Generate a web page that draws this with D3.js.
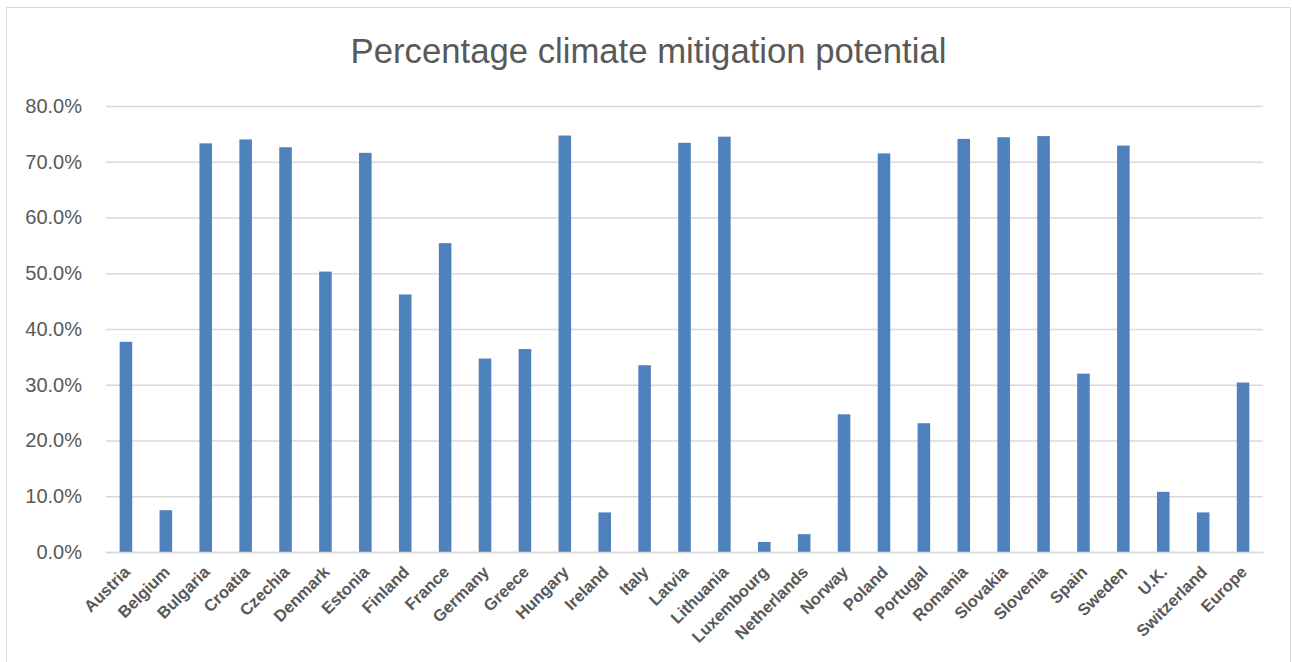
<!DOCTYPE html>
<html>
<head>
<meta charset="utf-8">
<script src="https://cdn.jsdelivr.net/npm/d3@7"></script>
<style>
  html, body { margin: 0; padding: 0; background: #ffffff; }
  svg { display: block; }
</style>
</head>
<body>
<svg id="chart" width="1292" height="662"></svg>
<script>
// Countries along the x axis
const countries = [
  "Austria", "Belgium", "Bulgaria", "Croatia", "Czechia", "Denmark", "Estonia",
  "Finland", "France", "Germany", "Greece", "Hungary", "Ireland", "Italy",
  "Latvia", "Lithuania", "Luxembourg", "Netherlands", "Norway", "Poland",
  "Portugal", "Romania", "Slovakia", "Slovenia", "Spain", "Sweden", "U.K.",
  "Switzerland", "Europe"
];

// Share of climate mitigation potential (fraction)
const potential = [
  0.377, 0.075, 0.733, 0.740, 0.726, 0.503, 0.716,
  0.462, 0.554, 0.347, 0.364, 0.747, 0.071, 0.335,
  0.734, 0.745, 0.018, 0.032, 0.247, 0.715,
  0.231, 0.741, 0.744, 0.746, 0.320, 0.729, 0.108,
  0.071, 0.304
];

// Y axis ticks
const yTicks = [0, 0.1, 0.2, 0.3, 0.4, 0.5, 0.6, 0.7, 0.8];

const chartTitle = "Percentage climate mitigation potential";

const svg = d3.select("#chart");
const plot = { left: 106, right: 1263, top: 106, bottom: 552 };

// outer chart frame
svg.append("rect")
  .attr("x", 6.5).attr("y", 7.5)
  .attr("width", 1284).attr("height", 680)
  .attr("fill", "#ffffff")
  .attr("stroke", "#d9d9d9")
  .attr("stroke-width", 1);

const x = d3.scaleBand()
  .domain(countries)
  .range([plot.left, plot.right])
  .paddingInner(0)
  .paddingOuter(0);

const y = d3.scaleLinear()
  .domain([0, 0.8])
  .range([plot.bottom, plot.top]);

// horizontal gridlines with percentage labels
const yAxis = d3.axisLeft(y)
  .tickValues(yTicks)
  .tickSize(-(plot.right - plot.left))
  .tickPadding(24)
  .tickFormat(d3.format(".1%"));

const gy = svg.append("g")
  .attr("transform", `translate(${plot.left},0)`)
  .call(yAxis);
gy.select(".domain").remove();
gy.selectAll(".tick line")
  .attr("stroke", "#d9d9d9")
  .attr("stroke-width", 1.3);
gy.selectAll(".tick text")
  .attr("fill", "#595959")
  .style("font-family", "'Liberation Sans', Arial, sans-serif")
  .style("font-size", "20px");

// bars
const barW = x.bandwidth() * 0.315;
svg.append("g")
  .selectAll("rect")
  .data(countries.map((c, i) => ({ c, v: potential[i] })))
  .join("rect")
  .attr("x", d => x(d.c) + (x.bandwidth() - barW) / 2)
  .attr("y", d => y(d.v))
  .attr("width", barW)
  .attr("height", d => y(0) - y(d.v))
  .attr("fill", "#4f81bd");

// category axis with slanted country names
const xAxis = d3.axisBottom(x).tickSize(0).tickPadding(0);
const gx = svg.append("g")
  .attr("transform", `translate(0,${plot.bottom})`)
  .call(xAxis);
gx.select(".domain")
  .attr("stroke", "#d9d9d9")
  .attr("stroke-width", 1.3);
gx.selectAll(".tick text")
  .attr("fill", "#595959")
  .attr("text-anchor", "end")
  .attr("dy", null)
  .attr("y", null)
  .attr("transform", `translate(5,21) rotate(-45)`)
  .style("font-family", "'Liberation Sans', Arial, sans-serif")
  .style("font-weight", "bold")
  .style("font-size", "16.5px");

// title
svg.append("text")
  .attr("x", 648.5)
  .attr("y", 63)
  .attr("text-anchor", "middle")
  .attr("fill", "#595959")
  .style("font-family", "'Liberation Sans', Arial, sans-serif")
  .style("font-size", "34.7px")
  .text(chartTitle);
</script>
</body>
</html>
